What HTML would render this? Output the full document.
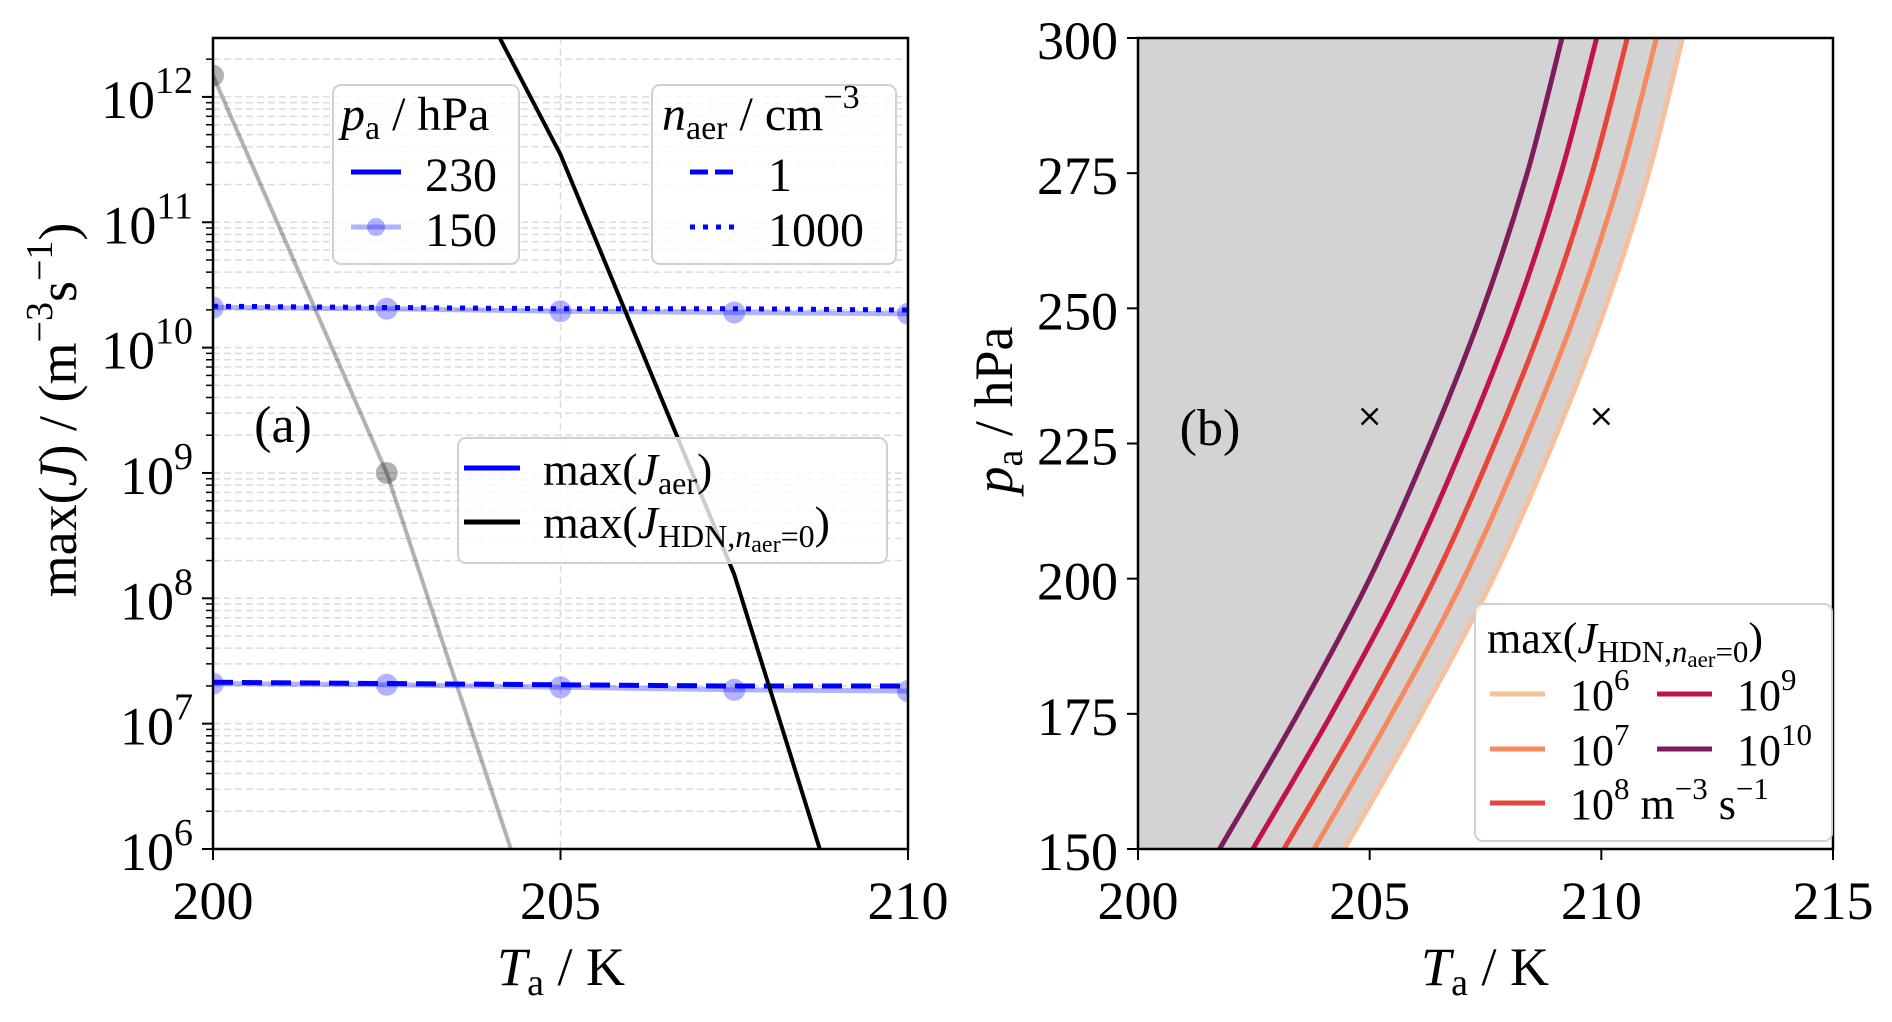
<!DOCTYPE html>
<html><head><meta charset="utf-8"><style>
html,body{margin:0;padding:0;background:#fff;width:1892px;height:1022px;overflow:hidden;}
svg{display:block;font-family:"Liberation Serif",serif;}
</style></head><body>
<svg id="fig" width="1892" height="1022" viewBox="0 0 1892 1022" xmlns="http://www.w3.org/2000/svg">
<defs>
<clipPath id="clipA"><rect x="213" y="38" width="695" height="811"/></clipPath>
<clipPath id="clipB"><rect x="1138" y="38" width="695" height="811"/></clipPath>
</defs>
<g id="panelA"></g>
<g id="panelB"></g>
</svg>
<script>
// ---------- Panel (a) data ----------
const tempsA = [200, 202.5, 205, 207.5, 210];
const hdn230 = [16.9, 14.2, 11.54, 8.19, 3.74];      // log10 J, black
const hdn150 = [12.17, 9.0, 4.8, 0.6, -3.6];          // log10 J, gray
const aer1_230 = [7.33, 7.32, 7.31, 7.30, 7.30];
const aer1000_230 = [10.33, 10.32, 10.31, 10.31, 10.30];
const aer1_150 = [7.32, 7.31, 7.29, 7.27, 7.26];
const aer1000_150 = [10.32, 10.31, 10.29, 10.28, 10.27];
const yTicksA = [6, 7, 8, 9, 10, 11, 12];
const xTicksA = [200, 205, 210];
// ---------- Panel (b) data ----------
const pressB = [150, 175, 200, 225, 250, 275, 300];
const c1e6  = [204.45, 206.12, 207.66, 208.95, 210.08, 211.02, 211.75];
const c1e7  = [203.80, 205.48, 207.03, 208.33, 209.48, 210.43, 211.19];
const c1e8  = [203.15, 204.85, 206.40, 207.70, 208.85, 209.80, 210.56];
const c1e9  = [202.48, 204.18, 205.73, 207.03, 208.18, 209.13, 209.90];
const c1e10 = [201.76, 203.45, 205.00, 206.30, 207.45, 208.40, 209.15];
const crossT = [205, 210];
const crossP = [230, 230];
const xTicksB = [200, 205, 210, 215];
const yTicksB = [150, 175, 200, 225, 250, 275, 300];

const NS = "http://www.w3.org/2000/svg";
function mk(parent, tag, attrs, text){
  const e = document.createElementNS(NS, tag);
  for (const k in attrs) e.setAttribute(k, attrs[k]);
  if (text !== undefined) e.textContent = text;
  parent.appendChild(e); return e;
}
const AX0=213, AX1=908, AY0=38, AY1=849;
const xA = t => AX0 + (t-200)/10*(AX1-AX0);
const LOGTOP = 12.47;
const yA = l => AY1 - (l-6)/(LOGTOP-6)*(AY1-AY0);
const BX0=1138, BX1=1833;
const xB = t => BX0 + (t-200)/15*(BX1-BX0);
const yB = p => AY1 - (p-150)/150*(AY1-AY0);

const A = document.getElementById('panelA');
const gridA = mk(A,'g',{'clip-path':'url(#clipA)'});


for (let d=6; d<=12; d++){
  for (let m=1; m<=9; m++){
    const l = d + Math.log10(m);
    if (l > LOGTOP) continue;
    mk(gridA,'line',{x1:AX0,x2:AX1,y1:yA(l),y2:yA(l),stroke:'#dcdcdc','stroke-width':1.5,'stroke-dasharray':'7,4'});
  }
}
mk(gridA,'line',{x1:xA(205),x2:xA(205),y1:AY0,y2:AY1,stroke:'#dcdcdc','stroke-width':1.5,'stroke-dasharray':'7,4'});

const plotA = mk(A,'g',{'clip-path':'url(#clipA)'});
function polyA(vals, attrs, name){
  const pts = tempsA.map((t,i)=>xA(t)+','+yA(vals[i])).join(' ');
  const el = mk(plotA,'polyline',Object.assign({points:pts,fill:'none'},attrs));
  
  
  return el;
}
function dotsA(vals, color, name){
  tempsA.forEach((t,i)=>{
    const c = mk(plotA,'circle',{cx:xA(t),cy:yA(vals[i]),r:11,fill:color});
    
    
  });
}
polyA(aer1_150,{stroke:'rgba(0,0,255,0.3)','stroke-width':5},'aer-1-150hpa-line');
dotsA(aer1_150,'rgba(0,0,255,0.3)','aer-1-150hpa-point');
polyA(aer1000_150,{stroke:'rgba(0,0,255,0.3)','stroke-width':5},'aer-1000-150hpa-line');
dotsA(aer1000_150,'rgba(0,0,255,0.3)','aer-1000-150hpa-point');
polyA(hdn150,{stroke:'rgba(0,0,0,0.3)','stroke-width':4},'hdn-150hpa-line');
dotsA(hdn150,'rgba(0,0,0,0.3)','hdn-150hpa-point');
polyA(aer1_230,{stroke:'#0000ff','stroke-width':5,'stroke-dasharray':'20,9'},'aer-1-230hpa-line');
polyA(aer1000_230,{stroke:'#0000ff','stroke-width':5,'stroke-dasharray':'5,8'},'aer-1000-230hpa-line');
polyA(hdn230,{stroke:'#000','stroke-width':4},'hdn-230hpa-line');

mk(A,'rect',{x:AX0,y:AY0,width:AX1-AX0,height:AY1-AY0,fill:'none',stroke:'#000','stroke-width':2.5});
for (let d=6; d<=12; d++){
  for (let m=2; m<=9; m++){
    const l = d + Math.log10(m);
    if (l > LOGTOP) continue;
    mk(A,'line',{x1:AX0-7,x2:AX0,y1:yA(l),y2:yA(l),stroke:'#000','stroke-width':1.5});
  }
}
yTicksA.forEach(d=>{
  mk(A,'line',{x1:AX0-11,x2:AX0,y1:yA(d),y2:yA(d),stroke:'#000','stroke-width':2});
  const t = mk(A,'text',{x:AX0-20,y:yA(d)+21,'font-size':54,'text-anchor':'end'});
  
  
  mk(t,'tspan',{},'10');
  mk(t,'tspan',{dy:-25,'font-size':38},String(d));
});
xTicksA.forEach(v=>{
  mk(A,'line',{x1:xA(v),x2:xA(v),y1:AY1,y2:AY1+11,stroke:'#000','stroke-width':2});
  const t = mk(A,'text',{x:xA(v),y:919,'font-size':54,'text-anchor':'middle'},String(v));
  
  
});
let xl = mk(A,'text',{x:561,y:985,'font-size':54,'text-anchor':'middle'});


mk(xl,'tspan',{'font-style':'italic'},'T');
mk(xl,'tspan',{dy:10,'font-size':38},'a');
mk(xl,'tspan',{dy:-10},' / K');
let yl = mk(A,'text',{x:0,y:0,'font-size':54,'text-anchor':'middle',transform:'translate(76,410) rotate(-90)'});


mk(yl,'tspan',{},'max(');
mk(yl,'tspan',{'font-style':'italic'},'J');
mk(yl,'tspan',{},') / (m');
mk(yl,'tspan',{dy:-24,'font-size':38},'−3');
mk(yl,'tspan',{dy:24},'s');
mk(yl,'tspan',{dy:-24,'font-size':38},'−1');
mk(yl,'tspan',{dy:24},')');
let la = mk(A,'text',{x:283,y:442,'font-size':52,'text-anchor':'middle'},'(a)');



function legBox(par,x,y,w,h,name){
  const r = mk(par,'rect',{x:x,y:y,width:w,height:h,rx:8,fill:'rgba(255,255,255,0.8)',stroke:'#d0d0d0','stroke-width':2});
  
  
}
const L1 = mk(A,'g',{});


legBox(L1,333,85,186,179,'legend-pressure-box');
let tt = mk(L1,'text',{x:341,y:130,'font-size':48});
mk(tt,'tspan',{'font-style':'italic'},'p');
mk(tt,'tspan',{dy:9,'font-size':34},'a');
mk(tt,'tspan',{dy:-9},' / hPa');
mk(L1,'line',{x1:351,x2:401,y1:172,y2:172,stroke:'#0000ff','stroke-width':5});
mk(L1,'text',{x:425,y:191,'font-size':48},'230');
mk(L1,'line',{x1:351,x2:401,y1:227,y2:227,stroke:'rgba(0,0,255,0.3)','stroke-width':5});
mk(L1,'circle',{cx:376,cy:227,r:9,fill:'rgba(0,0,255,0.3)'});
mk(L1,'text',{x:425,y:246,'font-size':48},'150');

const L2 = mk(A,'g',{});


legBox(L2,652,85,244,179,'legend-aerosol-box');
tt = mk(L2,'text',{x:662,y:130,'font-size':48});
mk(tt,'tspan',{'font-style':'italic'},'n');
mk(tt,'tspan',{dy:9,'font-size':34},'aer');
mk(tt,'tspan',{dy:-9},' / cm');
mk(tt,'tspan',{dy:-22,'font-size':34},'−3');
mk(L2,'line',{x1:690,x2:740,y1:172,y2:172,stroke:'#0000ff','stroke-width':5,'stroke-dasharray':'18,7'});
mk(L2,'text',{x:768,y:191,'font-size':48},'1');
mk(L2,'line',{x1:690,x2:740,y1:227,y2:227,stroke:'#0000ff','stroke-width':5,'stroke-dasharray':'5,8'});
mk(L2,'text',{x:768,y:246,'font-size':48},'1000');

const L3 = mk(A,'g',{});


legBox(L3,458,438,429,125,'legend-rate-type-box');
mk(L3,'line',{x1:464,x2:520,y1:468,y2:468,stroke:'#0000ff','stroke-width':5});
tt = mk(L3,'text',{x:543,y:485,'font-size':46});
mk(tt,'tspan',{},'max(');
mk(tt,'tspan',{'font-style':'italic'},'J');
mk(tt,'tspan',{dy:9,'font-size':32},'aer');
mk(tt,'tspan',{dy:-9},')');
mk(L3,'line',{x1:464,x2:520,y1:522,y2:522,stroke:'#000','stroke-width':5});
tt = mk(L3,'text',{x:543,y:538,'font-size':46});
mk(tt,'tspan',{},'max(');
mk(tt,'tspan',{'font-style':'italic'},'J');
mk(tt,'tspan',{dy:9,'font-size':32},'HDN,');
mk(tt,'tspan',{'font-size':32,'font-style':'italic'},'n');
mk(tt,'tspan',{dy:5,'font-size':24},'aer');
mk(tt,'tspan',{dy:-5,'font-size':32},'=0');
mk(tt,'tspan',{dy:-9},')');

// ---------- Panel B ----------
const B = document.getElementById('panelB');
const plotB = mk(B,'g',{'clip-path':'url(#clipB)'});
let fillPts = [[BX0,yB(300)],[BX0,yB(150)]].map(p=>p.join(','));
pressB.forEach((p,i)=>fillPts.push(xB(c1e6[i])+','+yB(p)));
const fillEl = mk(plotB,'polygon',{points:fillPts.join(' '),fill:'#d3d3d3'});


function smoothPath(ts){
  const pts = pressB.map((p,i)=>[xB(ts[i]),yB(p)]);
  let d = 'M'+pts[0][0]+','+pts[0][1];
  for (let i=0;i<pts.length-1;i++){
    const p0=pts[Math.max(0,i-1)],p1=pts[i],p2=pts[i+1],p3=pts[Math.min(pts.length-1,i+2)];
    const c1=[p1[0]+(p2[0]-p0[0])/6,p1[1]+(p2[1]-p0[1])/6];
    const c2=[p2[0]-(p3[0]-p1[0])/6,p2[1]-(p3[1]-p1[1])/6];
    d+=' C'+c1.join(',')+' '+c2.join(',')+' '+p2.join(',');
  }
  return d;
}
const curveSets = [[c1e6,'#f7c09c','contour-1e6'],[c1e7,'#f5895f','contour-1e7'],[c1e8,'#e8453a','contour-1e8'],[c1e9,'#c1124f','contour-1e9'],[c1e10,'#7c1c5b','contour-1e10']];
curveSets.forEach(([ts,col,name])=>{
  const e = mk(plotB,'path',{d:smoothPath(ts),fill:'none',stroke:col,'stroke-width':5});
  
  
});
crossT.forEach((t,i)=>{
  const g = mk(plotB,'g',{stroke:'#000','stroke-width':2.5});
  
  
  const cx=xB(t), cy=yB(crossP[i]);
  mk(g,'line',{x1:cx-8,y1:cy-8,x2:cx+8,y2:cy+8});
  mk(g,'line',{x1:cx-8,y1:cy+8,x2:cx+8,y2:cy-8});
});
mk(B,'rect',{x:BX0,y:AY0,width:BX1-BX0,height:AY1-AY0,fill:'none',stroke:'#000','stroke-width':2.5});
yTicksB.forEach(v=>{
  mk(B,'line',{x1:BX0-11,x2:BX0,y1:yB(v),y2:yB(v),stroke:'#000','stroke-width':2});
  const t = mk(B,'text',{x:1118,y:yB(v)+21,'font-size':54,'text-anchor':'end'},String(v));
  
  
});
xTicksB.forEach(v=>{
  mk(B,'line',{x1:xB(v),x2:xB(v),y1:AY1,y2:AY1+11,stroke:'#000','stroke-width':2});
  const t = mk(B,'text',{x:xB(v),y:919,'font-size':54,'text-anchor':'middle'},String(v));
  
  
});
xl = mk(B,'text',{x:1485,y:985,'font-size':54,'text-anchor':'middle'});


mk(xl,'tspan',{'font-style':'italic'},'T');
mk(xl,'tspan',{dy:10,'font-size':38},'a');
mk(xl,'tspan',{dy:-10},' / K');
yl = mk(B,'text',{x:0,y:0,'font-size':54,'text-anchor':'middle',transform:'translate(1012,410) rotate(-90)'});


mk(yl,'tspan',{'font-style':'italic'},'p');
mk(yl,'tspan',{dy:10,'font-size':38},'a');
mk(yl,'tspan',{dy:-10},' / hPa');
const lb = mk(B,'text',{x:1210,y:445,'font-size':52,'text-anchor':'middle'},'(b)');



const L4 = mk(B,'g',{});


legBox(L4,1475,604,357,237,'legend-contours-box');
tt = mk(L4,'text',{x:1487,y:653,'font-size':44});
mk(tt,'tspan',{},'max(');
mk(tt,'tspan',{'font-style':'italic'},'J');
mk(tt,'tspan',{dy:9,'font-size':31},'HDN,');
mk(tt,'tspan',{'font-size':31,'font-style':'italic'},'n');
mk(tt,'tspan',{dy:5,'font-size':23},'aer');
mk(tt,'tspan',{dy:-5,'font-size':31},'=0');
mk(tt,'tspan',{dy:-9},')');
const legRows = [[1490,694,'#f7c09c','6'],[1490,749,'#f5895f','7'],[1490,803,'#e8453a','8'],[1657,694,'#c1124f','9'],[1657,749,'#7c1c5b','10']];
legRows.forEach(([x,y,col,ex],i)=>{
  mk(L4,'line',{x1:x,x2:x+55,y1:y,y2:y,stroke:col,'stroke-width':5});
  const t = mk(L4,'text',{x:x+80,y:y+16,'font-size':44});
  mk(t,'tspan',{},'10');
  mk(t,'tspan',{dy:-20,'font-size':31},ex);
  if (i===2){ mk(t,'tspan',{dy:20},' m'); mk(t,'tspan',{dy:-20,'font-size':31},'−3'); mk(t,'tspan',{dy:20},' s'); mk(t,'tspan',{dy:-20,'font-size':31},'−1'); }
});
</script>
</body></html>
